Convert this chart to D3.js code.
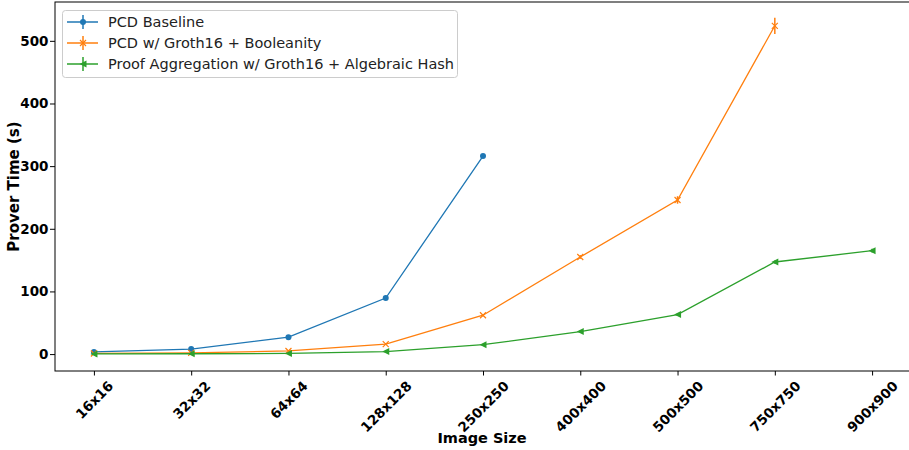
<!DOCTYPE html>
<html><head><meta charset="utf-8">
<script src="https://cdn.jsdelivr.net/npm/d3@7/dist/d3.min.js"></script>
<style>body{margin:0;background:#fff}svg{display:block;font-family:"DejaVu Sans",sans-serif}</style>
</head><body><svg id="c" width="909" height="450"></svg>
<script>
const categories = ["16x16","32x32","64x64","128x128","250x250","400x400","500x500","750x750","900x900"];
const seriesNames = ["PCD Baseline","PCD w/ Groth16 + Booleanity","Proof Aggregation w/ Groth16 + Algebraic Hash"];
const baselineValues = [3.5, 8, 27, 89.5, 316];
const baselineErrors = [0.5, 0.5, 1, 2, 2];
const booleanityValues = [1, 2, 5, 16, 62, 155, 246, 524];
const booleanityErrors = [0.3, 0.3, 0.5, 1, 2, 3, 6, 13];
const aggregationValues = [0.2, 0.5, 1, 4, 15, 36, 63, 147, 165];
const aggregationErrors = [0.2, 0.2, 0.3, 0.5, 1, 1.5, 2, 2.5, 3];
const yTicks = [0, 100, 200, 300, 400, 500];

const colors = ["#1f77b4", "#ff7f0e", "#2ca02c"];
const markers = ["circle", "x", "triL"];
const series = [
  {name: seriesNames[0], vals: baselineValues, errs: baselineErrors},
  {name: seriesNames[1], vals: booleanityValues, errs: booleanityErrors},
  {name: seriesNames[2], vals: aggregationValues, errs: aggregationErrors}
];

const svg = d3.select("#c");
const L = 55, R = 911, T = 2, B = 371;
const x = d3.scaleLinear().domain([-0.4, categories.length - 1 + 0.4]).range([L, R]);
const y = d3.scaleLinear().domain([-27, 562]).range([B, T]);

// frame
svg.append("rect").attr("x", L).attr("y", T).attr("width", R - L).attr("height", B - T)
  .attr("fill", "none").attr("stroke", "#000").attr("stroke-width", 1);

// y axis
const ya = svg.append("g").attr("transform", `translate(${L},0)`)
  .call(d3.axisLeft(y).tickValues(yTicks).tickSize(5).tickPadding(1.5).tickFormat(d3.format("d")));
ya.select(".domain").remove();
ya.selectAll("text").attr("font-size", 13.5).attr("font-weight", "bold").attr("fill", "#000")
  .attr("font-family", "DejaVu Sans");

// x axis
const xa = svg.append("g").attr("transform", `translate(0,${B})`)
  .call(d3.axisBottom(x).tickValues(d3.range(categories.length)).tickSize(4.5).tickFormat(i => categories[i]));
xa.select(".domain").remove();
xa.selectAll("text").attr("font-size", 13.5).attr("font-weight", "bold").attr("fill", "#000")
  .attr("font-family", "DejaVu Sans")
  .attr("text-anchor", "middle").attr("dy", "0.35em").attr("y", 0)
  .each(function() {
    const w = this.getComputedTextLength();
    const half = (w + 13) * 0.7071 / 2;
    d3.select(this).attr("transform", `translate(0,${8 + half}) rotate(-45)`);
  });

// axis labels
svg.append("text").attr("x", (L + R) / 2 - 1).attr("y", 443).attr("text-anchor", "middle")
  .attr("font-size", 14.5).attr("font-weight", "bold").text("Image Size");
svg.append("text").attr("transform", `translate(19,${(T + B) / 2}) rotate(-90)`).attr("text-anchor", "middle")
  .attr("font-size", 15).attr("font-weight", "bold").text("Prover Time (s)");

function drawMarker(g, type, cx, cy, color) {
  if (type === "circle") {
    g.append("circle").attr("cx", cx).attr("cy", cy).attr("r", 3).attr("fill", color);
  } else if (type === "x") {
    const s = 3;
    g.append("path").attr("d", `M${cx - s},${cy - s}L${cx + s},${cy + s}M${cx - s},${cy + s}L${cx + s},${cy - s}`)
      .attr("stroke", color).attr("stroke-width", 1.2).attr("fill", "none");
  } else {
    const s = 3.5;
    g.append("path").attr("d", `M${cx - s},${cy}L${cx + s},${cy - s}L${cx + s},${cy + s}Z`).attr("fill", color);
  }
}

const line = d3.line().x((d, i) => x(i)).y(d => y(d));
series.forEach((s, k) => {
  const g = svg.append("g");
  g.append("path").attr("d", line(s.vals)).attr("fill", "none").attr("stroke", colors[k]).attr("stroke-width", 1.3);
  s.vals.forEach((v, i) => {
    g.append("line").attr("x1", x(i)).attr("x2", x(i)).attr("y1", y(v - s.errs[i])).attr("y2", y(v + s.errs[i]))
      .attr("stroke", colors[k]).attr("stroke-width", 1.5);
    drawMarker(g, markers[k], x(i), y(v), colors[k]);
  });
});

// legend
const lg = svg.append("g");
lg.append("rect").attr("x", 62.5).attr("y", 10.5).attr("width", 395).attr("height", 67).attr("rx", 3)
  .attr("fill", "#fff").attr("fill-opacity", 0.8).attr("stroke", "#ccc").attr("stroke-width", 1);
series.forEach((s, k) => {
  const cy = 22 + k * 21;
  lg.append("line").attr("x1", 67).attr("x2", 98).attr("y1", cy).attr("y2", cy).attr("stroke", colors[k]).attr("stroke-width", 1.5);
  lg.append("line").attr("x1", 83).attr("x2", 83).attr("y1", cy - 7).attr("y2", cy + 7).attr("stroke", colors[k]).attr("stroke-width", 1.5);
  drawMarker(lg, markers[k], 83, cy, colors[k]);
  lg.append("text").attr("x", 108).attr("y", cy).attr("dy", "0.35em").attr("font-size", 14.5).attr("fill", "#222").text(s.name);
});
</script></body></html>
